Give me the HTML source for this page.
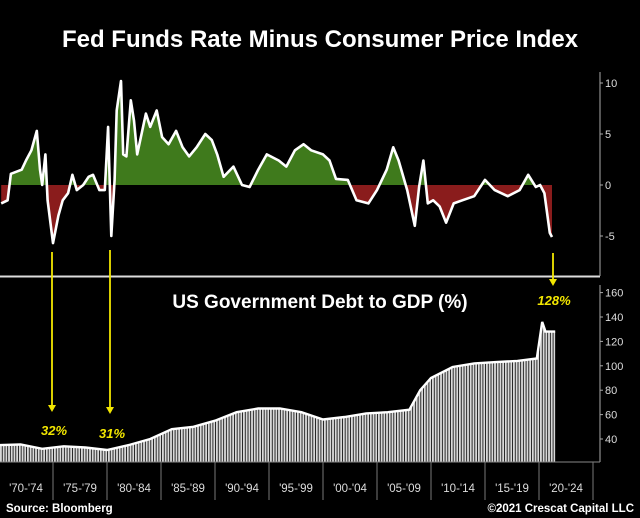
<!DOCTYPE html>
<html><head><meta charset="utf-8"><style>
html,body{margin:0;padding:0;background:#000;}
svg{display:block;font-family:"Liberation Sans",sans-serif;}
</style></head><body>
<svg id="c" width="640" height="518" viewBox="0 0 640 518">
<defs>
<pattern id="stripes" patternUnits="userSpaceOnUse" width="2.7" height="10"><rect x="0" y="0" width="1.9" height="10" fill="#d8d8d8"/></pattern>
<clipPath id="above"><rect x="0" y="0" width="640" height="185"/></clipPath>
<clipPath id="below"><rect x="0" y="185" width="640" height="100"/></clipPath>
</defs>
<text x="320" y="47" text-anchor="middle" fill="#fff" font-size="24" font-weight="bold">Fed Funds Rate Minus Consumer Price Index</text>
<line x1="0" y1="276.5" x2="600" y2="276.5" stroke="#ddd" stroke-width="2"/>
<text x="320" y="308" text-anchor="middle" fill="#fff" font-size="19" font-weight="bold">US Government Debt to GDP (%)</text>
<g id="topPanel"></g>
<g id="botPanel"></g>
<g id="xax"></g>
<g id="ann"></g>
<text x="6" y="512" fill="#fff" font-size="11.5" font-weight="bold">Source: Bloomberg</text>
<text x="634" y="512" text-anchor="end" fill="#fff" font-size="11.5" font-weight="bold">©2021 Crescat Capital LLC</text>
</svg>
<script>
const rateYears=[1970.2,1970.8,1971.1,1972.1,1972.5,1973.0,1973.5,1973.8,1974.0,1974.3,1974.5,1975.0,1975.5,1975.9,1976.4,1976.8,1977.2,1977.8,1978.3,1978.7,1979.3,1979.8,1980.1,1980.4,1980.7,1980.9,1981.3,1981.5,1981.8,1982.2,1982.5,1982.8,1983.6,1984.0,1984.6,1985.1,1985.7,1986.4,1987.0,1987.6,1988.3,1989.1,1989.7,1990.2,1990.8,1991.7,1992.5,1993.2,1994.0,1994.8,1995.9,1996.6,1997.4,1998.2,1998.9,2000.0,2000.6,2001.2,2002.3,2003.1,2004.2,2005.0,2005.9,2006.5,2007.0,2007.8,2008.5,2008.9,2009.3,2009.7,2010.2,2010.8,2011.4,2012.1,2012.9,2014.0,2015.0,2015.9,2017.1,2018.2,2019.0,2019.7,2020.1,2020.5,2021.0,2021.2];
const rateValues=[-1.8,-1.5,1.1,1.5,2.4,3.4,5.3,1.5,0,3,-1.5,-5.7,-3,-1.5,-0.8,1,-0.5,0,0.8,1,-0.5,-0.5,5.7,-5,0.5,7.3,10.2,3,2.8,8.3,6.3,3,7,5.7,7.3,4.7,4,5.3,3.7,2.8,3.7,5,4.4,3,0.8,1.8,0,-0.2,1.5,3,2.4,1.8,3.4,4,3.4,3,2.4,0.6,0.5,-1.5,-1.8,-0.5,1.5,3.7,2.4,-0.5,-4,-0.2,2.4,-1.8,-1.5,-2.1,-3.7,-1.8,-1.5,-1.1,0.5,-0.5,-1.1,-0.5,1,-0.2,0,-0.8,-4.7,-5.1];
const rateTicks=[10,5,0,-5];
const debtYears=[1970,1972,1974,1976,1978,1980,1982,1984,1986,1988,1990,1992,1994,1996,1998,2000,2002,2004,2006,2008,2009,2010,2012,2014,2016,2018,2019.8,2020.3,2020.6,2021.5];
const debtValues=[35,35.5,32,34,33,31,35,40,48,50,55,62,65,65,62,56,58,61,62,64,80,90,99,102,103,104,106,136,128,128];
const debtTicks=[160,140,120,100,80,60,40];
const periodLabels=["'70-'74","'75-'79","'80-'84","'85-'89","'90-'94","'95-'99","'00-'04","'05-'09","'10-'14","'15-'19","'20-'24"];
const periodStarts=[1970,1975,1980,1985,1990,1995,2000,2005,2010,2015,2020];

const NS="http://www.w3.org/2000/svg";
const X=y=>(y-1970)*10.8-1;
const YR=v=>185-v*10.2;
const YD=v=>439-(v-40)*1.22;
const BASE=462, AXX=600;
function mk(tag,attrs,parent){const e=document.createElementNS(NS,tag);for(const k in attrs)e.setAttribute(k,attrs[k]);parent.appendChild(e);return e;}
const gTop=document.getElementById('topPanel'),gBot=document.getElementById('botPanel'),xax=document.getElementById('xax'),ann=document.getElementById('ann');

let lineD=rateYears.map((y,i)=>(i?'L':'M')+X(y).toFixed(1)+','+YR(rateValues[i]).toFixed(1)).join('');
let areaD=lineD+'L'+X(rateYears[rateYears.length-1]).toFixed(1)+','+YR(0)+'L'+X(rateYears[0]).toFixed(1)+','+YR(0)+'Z';
const ga=mk('path',{d:areaD,fill:'#3f7a1c','clip-path':'url(#above)'},gTop);


const ra=mk('path',{d:areaD,fill:'#8a1c1c','clip-path':'url(#below)'},gTop);


const rl=mk('path',{d:lineD,fill:'none',stroke:'#fff','stroke-width':2.6,'stroke-linejoin':'round'},gTop);


const ra1=mk('line',{x1:AXX,y1:72,x2:AXX,y2:276,stroke:'#aaa','stroke-width':1},gTop);


rateTicks.forEach(t=>{
  const tk=mk('line',{x1:AXX,y1:YR(t),x2:AXX+3,y2:YR(t),stroke:'#aaa'},gTop);
  
  
  const tx=mk('text',{x:AXX+5,y:YR(t)+4,fill:'#ddd','font-size':11},gTop);tx.textContent=t;
  
  
});

let dLine=debtYears.map((y,i)=>(i?'L':'M')+X(y).toFixed(1)+','+YD(debtValues[i]).toFixed(1)).join('');
let dArea=dLine+'L'+X(debtYears[debtYears.length-1]).toFixed(1)+','+BASE+'L'+X(debtYears[0]).toFixed(1)+','+BASE+'Z';
const da=mk('path',{d:dArea,fill:'url(#stripes)'},gBot);


const dl=mk('path',{d:dLine,fill:'none',stroke:'#fff','stroke-width':2.4},gBot);


const da1=mk('line',{x1:AXX,y1:285,x2:AXX,y2:BASE,stroke:'#aaa'},gBot);


debtTicks.forEach(t=>{
  const tk=mk('line',{x1:AXX,y1:YD(t),x2:AXX+3,y2:YD(t),stroke:'#aaa'},gBot);
  
  
  const tx=mk('text',{x:AXX+5,y:YD(t)+4,fill:'#ddd','font-size':11},gBot);tx.textContent=t;
  
  
});

const bl=mk('line',{x1:0,y1:BASE,x2:AXX,y2:BASE,stroke:'#888'},xax);


periodStarts.forEach((s,i)=>{
  if(i>0){const d=mk('line',{x1:X(s),y1:BASE,x2:X(s),y2:500,stroke:'#777'},xax);
  
  }
  const t=mk('text',{x:X(s+2.5),y:492,'text-anchor':'middle',fill:'#ddd','font-size':11.5},xax);t.textContent=periodLabels[i];
  
  
});
const dEnd=mk('line',{x1:X(2025),y1:BASE,x2:X(2025),y2:500,stroke:'#777'},xax);



function arrow(x,y1,y2,label,lx,ly){
  const l=mk('line',{x1:x,y1:y1,x2:x,y2:y2-5,stroke:'#f2e600','stroke-width':1.8},ann);
  
  
  const h=mk('polygon',{points:`${x-4},${y2-7} ${x+4},${y2-7} ${x},${y2}`,fill:'#f2e600'},ann);
  
  
  const t=mk('text',{x:lx,y:ly,'text-anchor':'middle',fill:'#f2e600','font-size':13,'font-weight':'bold','font-style':'italic'},ann);t.textContent=label;
  
  
}
arrow(52,252,412,'32%',54,435);
arrow(110,250,414,'31%',112,438);
arrow(553,253,286,'128%',554,305);
</script>
</body></html>
